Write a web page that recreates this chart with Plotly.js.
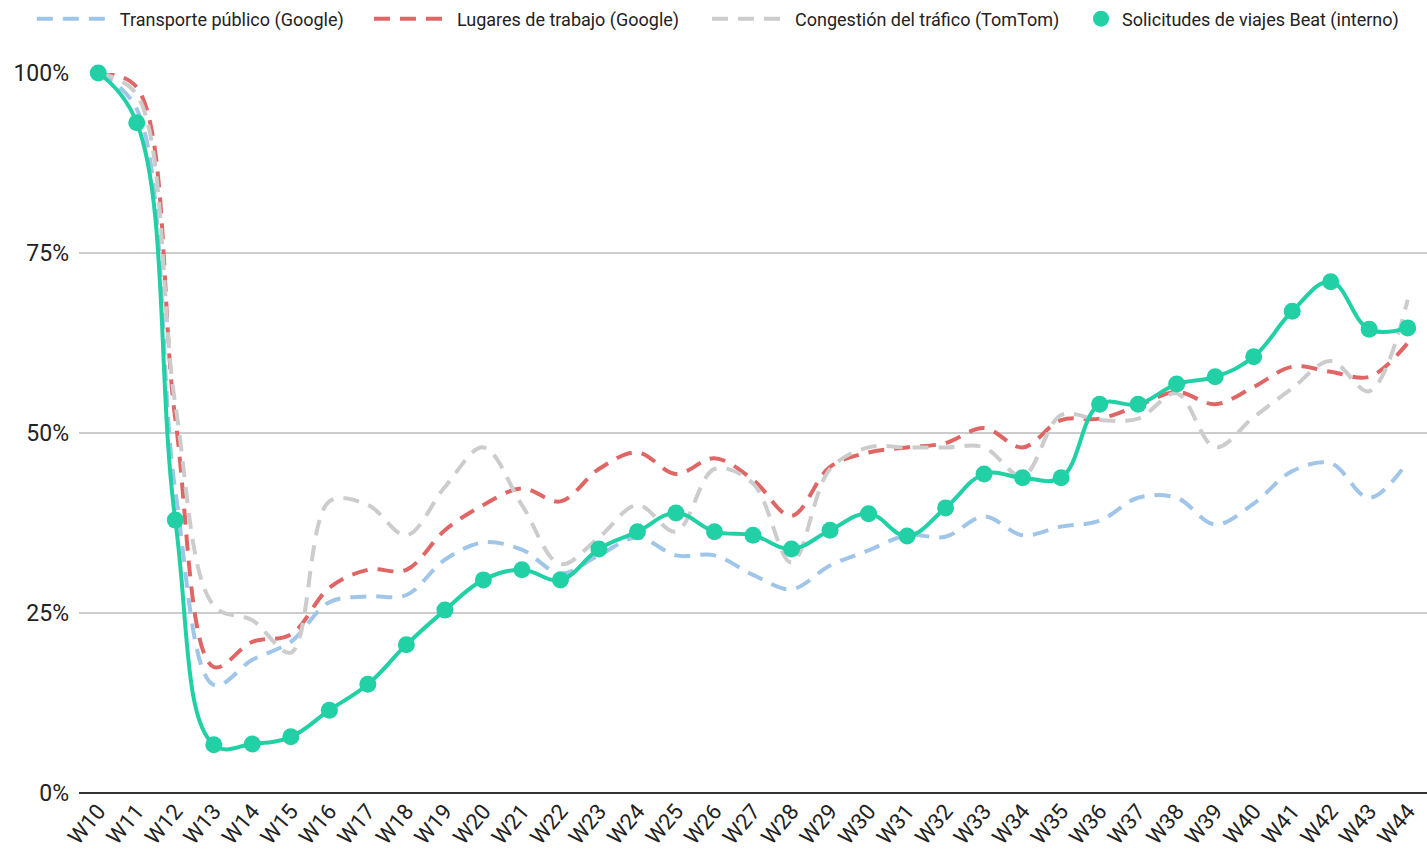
<!DOCTYPE html>
<html>
<head>
<meta charset="utf-8">
<script src="https://cdn.plot.ly/plotly-3.0.1.min.js"></script>
<style>
html,body{margin:0;padding:0;background:#fff;}
#chart{width:1427px;height:853px;}
</style>
</head>
<body>
<div id="chart"></div>
<script>
const weeks = ["W10","W11","W12","W13","W14","W15","W16","W17","W18","W19","W20","W21","W22","W23","W24","W25","W26","W27","W28","W29","W30","W31","W32","W33","W34","W35","W36","W37","W38","W39","W40","W41","W42","W43","W44"];

const transportePublico = [100, 95, 42, 15, 18.5, 21, 26.5, 27.3, 27.5, 32.4, 34.8, 33.8, 30.5, 33.0, 35.5, 33.0, 33.0, 30.3, 28.3, 31.6, 33.7, 35.8, 35.6, 38.4, 35.8, 37.0, 37.8, 41.0, 41.0, 37.3, 40.2, 44.7, 45.8, 41.0, 46.0];

const lugaresTrabajo = [100, 98, 52, 17.5, 21, 22, 28.5, 31, 31, 36.5, 40, 42.3, 40.5, 45, 47.3, 44.3, 46.5, 43.5, 38.5, 45.3, 47.3, 48, 48.6, 50.7, 48, 51.8, 52, 53.8, 55.7, 54, 56.4, 59.2, 58.5, 57.8, 62.5];

const congestion = [100, 97, 54, 26, 24, 19.5, 40.5, 40, 35.8, 42.5, 48, 40, 31.8, 35.5, 40, 36.3, 45, 43, 32, 45, 48, 48, 48, 48, 44, 52.5, 51.8, 52, 55.5, 48, 52.2, 56.2, 60, 55.8, 68.5];

const solicitudesBeat = [100, 93.1, 37.9, 6.7, 6.8, 7.8, 11.5, 15.1, 20.6, 25.4, 29.6, 31.0, 29.6, 33.9, 36.3, 38.9, 36.3, 35.8, 33.9, 36.5, 38.8, 35.7, 39.6, 44.3, 43.8, 43.8, 54.0, 54.0, 56.8, 57.8, 60.6, 66.9, 71.0, 64.4, 64.6];

const names = ["Transporte público (Google)", "Lugares de trabajo (Google)", "Congestión del tráfico (TomTom)", "Solicitudes de viajes Beat (interno)"];

function dashed(y, name, color, legendId) {
  return {
    x: weeks, y: y, name: name, type: "scatter", mode: "lines",
    line: {color: color, width: 4, dash: "16px,10px", shape: "spline", smoothing: 1},
    legend: legendId
  };
}

const traces = [
  dashed(transportePublico, names[0], "#9fc5e8", "legend"),
  dashed(lugaresTrabajo, names[1], "#e06666", "legend3"),
  dashed(congestion, names[2], "#cccccc", "legend4"),
  {
    x: weeks, y: solicitudesBeat, name: names[3], type: "scatter", mode: "lines+markers",
    line: {color: "#22d0a5", width: 4, shape: "spline", smoothing: 1.15},
    marker: {color: "#22d0a5", size: 17},
    showlegend: false, cliponaxis: false
  },
  {
    x: [null], y: [null], name: names[3], type: "scatter", mode: "markers",
    marker: {color: "#22d0a5", size: 22}, legend: "legend2"
  }
];

function lg(x, w) {
  return {
    orientation: "h", x: x, xanchor: "left", y: 1.075, yanchor: "middle",
    font: {size: 18, color: "#222"}, itemwidth: w,
    bgcolor: "rgba(0,0,0,0)"
  };
}

const layout = {
  width: 1427, height: 853,
  margin: {l: 79, r: 0, t: 73, b: 60},
  paper_bgcolor: "#fff", plot_bgcolor: "#fff",
  font: {family: "Roboto, 'Noto Sans', sans-serif", color: "#222"},
  showlegend: true,
  legend: lg(-0.035, 78),
  legend3: lg(0.2151, 78),
  legend4: lg(0.4659, 78),
  legend2: lg(0.7426, 32),
  xaxis: {
    type: "category", range: [-0.5, 34.5], tickangle: -50,
    tickfont: {size: 22, color: "#222"}, showgrid: false, zeroline: false,
    showline: false, ticks: ""
  },
  yaxis: {
    range: [0, 100], tickvals: [0, 25, 50, 75, 100], ticktext: ["0%", "25%", "50%", "75%", "100%"],
    tickfont: {size: 23, color: "#222"}, gridcolor: "#cccccc", gridwidth: 1.5,
    zeroline: true, zerolinecolor: "#333", zerolinewidth: 2, ticks: "", ticklen: 0,
    ticklabelstandoff: 9
  }
};

Plotly.newPlot("chart", traces, layout, {displayModeBar: false, responsive: false});
</script>
</body>
</html>
